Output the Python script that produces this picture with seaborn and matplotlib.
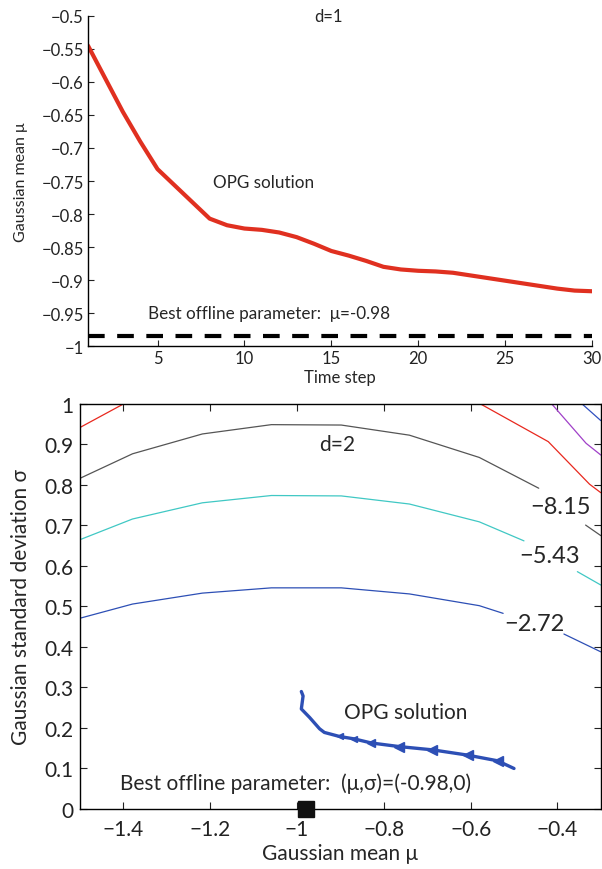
import numpy as np
import pandas as pd
import matplotlib
matplotlib.use("Agg")
import matplotlib.pyplot as plt
import seaborn as sns

# -----------------------------------------------------------------
# Datos panel d=1
# -----------------------------------------------------------------
time_step = list(range(1, 31))
mu_opg = [-0.545, -0.595, -0.645, -0.690, -0.732, -0.757, -0.782, -0.807,
          -0.817, -0.822, -0.824, -0.828, -0.835, -0.845, -0.856, -0.863,
          -0.871, -0.880, -0.884, -0.886, -0.887, -0.889, -0.893, -0.897,
          -0.901, -0.905, -0.909, -0.913, -0.916, -0.917]
mu_best = -0.985

# -----------------------------------------------------------------
# Datos panel d=2 (curvas de nivel)
# -----------------------------------------------------------------
lvl_272_mu = [-1.5, -1.379, -1.218, -1.059, -0.898, -0.741, -0.58, -0.525]
lvl_272_sig = [0.471, 0.506, 0.533, 0.546, 0.546, 0.531, 0.502, 0.483]
lvl_272b_mu = [-0.385, -0.3]
lvl_272b_sig = [0.432, 0.388]

lvl_543_mu = [-1.5, -1.379, -1.218, -1.059, -0.898, -0.741, -0.58, -0.477]
lvl_543_sig = [0.665, 0.716, 0.756, 0.774, 0.773, 0.753, 0.709, 0.662]
lvl_543b_mu = [-0.354, -0.3]
lvl_543b_sig = [0.586, 0.553]

lvl_815_mu = [-1.5, -1.379, -1.218, -1.059, -0.898, -0.741, -0.58, -0.443]
lvl_815_sig = [0.8165, 0.877, 0.926, 0.949, 0.948, 0.923, 0.868, 0.792]
lvl_815b_mu = [-0.335, -0.3]
lvl_815b_sig = [0.701, 0.675]

lvl_1087a_mu = [-1.5, -1.40]
lvl_1087a_sig = [0.942, 1.0]
lvl_1087b_mu = [-0.577, -0.421, -0.326, -0.3]
lvl_1087b_sig = [1.0, 0.907, 0.802, 0.781]

lvl_1359_mu = [-0.413, -0.334, -0.3]
lvl_1359_sig = [1.0, 0.903, 0.874]

lvl_1630_mu = [-0.343, -0.3]
lvl_1630_sig = [1.0, 0.959]

traj_mu = [-0.5, -0.538, -0.607, -0.688, -0.764, -0.829, -0.868, -0.902,
           -0.937, -0.948, -0.971, -0.990, -0.986, -0.990]
traj_sig = [0.100, 0.119, 0.133, 0.146, 0.154, 0.163, 0.173, 0.179,
            0.189, 0.198, 0.226, 0.247, 0.279, 0.290]
arrow_idx = [1, 2, 3, 4, 5, 6, 7]
arrow_size = [7, 7, 6.5, 6.5, 6, 5, 4.5]

best_mu, best_sig = -0.98, 0.0

sns.set_theme(style="white")
plt.rcParams['font.family'] = ['Lato', 'DejaVu Sans']
plt.rcParams['xtick.direction'] = 'in'
plt.rcParams['ytick.direction'] = 'in'

fig = plt.figure(figsize=(6.02, 8.70), dpi=100)

# -----------------------------------------------------------------
# Panel superior
# -----------------------------------------------------------------
ax1 = fig.add_axes([0.1462, 0.6011, 0.8372, 0.3794])
df1 = pd.DataFrame({"t": time_step, "mu": mu_opg})
sns.lineplot(data=df1, x="t", y="mu", ax=ax1, color="#e03020", linewidth=3)
ax1.axhline(mu_best, color="black", linewidth=3, linestyle=(0, (4, 3)))
ax1.set_xlim(1, 30)
ax1.set_ylim(-1, -0.5)
ax1.set_xticks([5, 10, 15, 20, 25, 30])
yt = np.arange(-1, -0.49, 0.05)
ax1.set_yticks(yt)
ax1.set_yticklabels([f"{v:g}".replace("-", "\u2212") for v in np.round(yt, 2)])
ax1.tick_params(labelsize=12, length=4, width=0.8, colors="#222222",
                bottom=True, left=True, pad=3)
for s in ["top", "right"]:
    ax1.spines[s].set_visible(False)
for s in ["bottom", "left"]:
    ax1.spines[s].set_color("black")
    ax1.spines[s].set_linewidth(1)
ax1.set_xlabel("Time step", fontsize=12, labelpad=2)
ax1.set_ylabel("Gaussian mean \u03bc", fontsize=11.5, labelpad=10)
ax1.text(14, -0.5, "d=1", fontsize=12, ha="left", va="center")
ax1.text(8.2, -0.752, "OPG solution", fontsize=12.3, ha="left", va="center")
ax1.text(4.45, -0.95, "Best offline parameter:  \u03bc=-0.98", fontsize=12.3,
         ha="left", va="center")

# -----------------------------------------------------------------
# Panel inferior
# -----------------------------------------------------------------
ax2 = fig.add_axes([0.1329, 0.069, 0.8651, 0.4655])
contours = [
    (lvl_272_mu, lvl_272_sig, "#2d4fb5"), (lvl_272b_mu, lvl_272b_sig, "#2d4fb5"),
    (lvl_543_mu, lvl_543_sig, "#40c8c4"), (lvl_543b_mu, lvl_543b_sig, "#40c8c4"),
    (lvl_815_mu, lvl_815_sig, "#555555"), (lvl_815b_mu, lvl_815b_sig, "#555555"),
    (lvl_1087a_mu, lvl_1087a_sig, "#e8281e"), (lvl_1087b_mu, lvl_1087b_sig, "#e8281e"),
    (lvl_1359_mu, lvl_1359_sig, "#a040c8"),
    (lvl_1630_mu, lvl_1630_sig, "#3050c0"),
]
for xs, ys, c in contours:
    sns.lineplot(x=xs, y=ys, ax=ax2, color=c, linewidth=0.9, sort=False,
                 estimator=None)

sns.lineplot(x=traj_mu, y=traj_sig, ax=ax2, color="#2d4fb5", linewidth=2.4,
             sort=False, estimator=None)
for i, ms in zip(arrow_idx, arrow_size):
    ax2.plot([traj_mu[i]], [traj_sig[i]], linestyle="none", marker="<",
             markersize=ms, color="#2d4fb5")
ax2.plot([best_mu], [best_sig], marker="s", markersize=11, color="#111111",
         clip_on=False, zorder=5)

ax2.set_xlim(-1.5, -0.3)
ax2.set_ylim(0, 1)
ax2.set_xticks([-1.4, -1.2, -1, -0.8, -0.6, -0.4])
ax2.set_xticklabels(["\u22121.4", "\u22121.2", "\u22121", "\u22120.8",
                     "\u22120.6", "\u22120.4"])
ax2.set_yticks(np.round(np.arange(0, 1.01, 0.1), 1))
ax2.set_yticklabels(["0", "0.1", "0.2", "0.3", "0.4", "0.5", "0.6", "0.7",
                     "0.8", "0.9", "1"])
ax2.tick_params(labelsize=15, length=5, width=0.8, colors="#222222",
                bottom=True, left=True, top=True, right=True, pad=5)
ax2.tick_params(axis="x", pad=7)
for s in ax2.spines.values():
    s.set_color("black")
    s.set_linewidth(1)
ax2.set_xlabel("Gaussian mean \u03bc", fontsize=15, labelpad=3)
ax2.set_ylabel("Gaussian standard deviation \u03c3", fontsize=15, labelpad=9)

ax2.text(-0.948, 0.901, "d=2", fontsize=15, ha="left", va="center")
ax2.text(-0.891, 0.24, "OPG solution", fontsize=15, ha="left", va="center")
ax2.text(-1.408, 0.064, "Best offline parameter:  (\u03bc,\u03c3)=(-0.98,0)",
         fontsize=15, ha="left", va="center")
ax2.text(-0.462, 0.746, "\u22128.15", fontsize=17, ha="left", va="center")
ax2.text(-0.488, 0.625, "\u22125.43", fontsize=17, ha="left", va="center")
ax2.text(-0.523, 0.457, "\u22122.72", fontsize=17, ha="left", va="center")

fig.savefig("out.png", dpi=100)
